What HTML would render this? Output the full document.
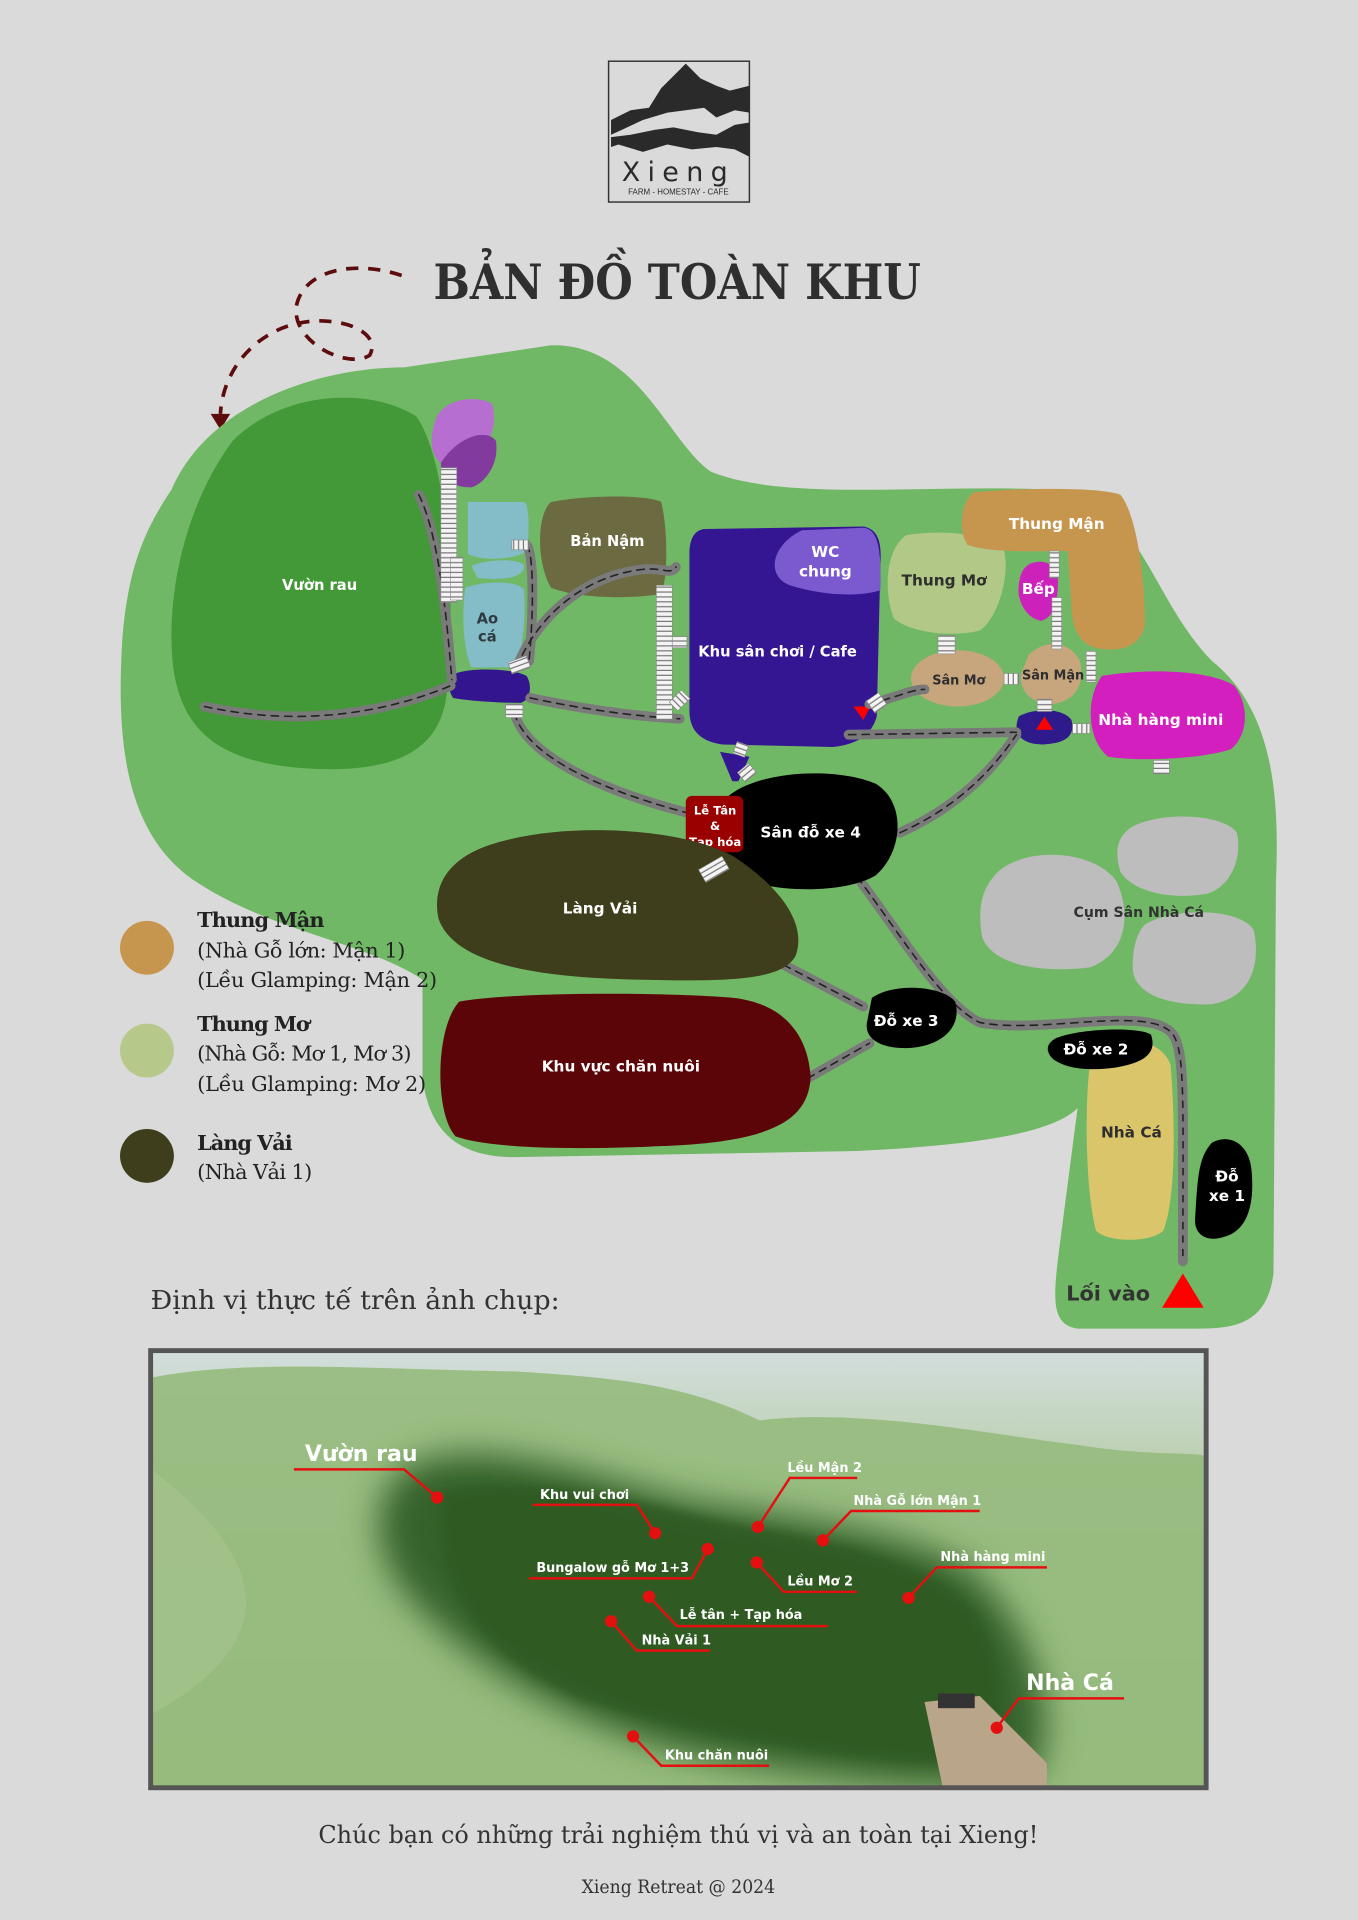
<!DOCTYPE html>
<html><head><meta charset="utf-8"><style>
html,body{margin:0;padding:0;background:#dadada}
svg{display:block}
.m{font-family:"DejaVu Sans","Liberation Sans",sans-serif;font-weight:bold}
.s{font-family:"DejaVu Serif","Liberation Serif",serif}
</style></head><body>
<svg width="1358" height="1920" viewBox="0 0 1109 1568" xmlns="http://www.w3.org/2000/svg">
<defs>
<pattern id="st" patternUnits="userSpaceOnUse" width="4" height="4"><rect width="4" height="4" fill="#f4f4f4"/><rect y="3" width="4" height="1" fill="#777"/></pattern>
<pattern id="sv" patternUnits="userSpaceOnUse" width="4" height="4"><rect width="4" height="4" fill="#f4f4f4"/><rect x="3" width="1" height="4" fill="#777"/></pattern>
<filter id="bl" x="-20%" y="-20%" width="140%" height="140%"><feGaussianBlur stdDeviation="14"/></filter>
<filter id="bl2"><feGaussianBlur stdDeviation="4"/></filter>
<linearGradient id="sky" x1="0" y1="0" x2="0" y2="1"><stop offset="0" stop-color="#d3dedc"/><stop offset="0.25" stop-color="#bcd0b2"/><stop offset="1" stop-color="#9dbd83"/></linearGradient>
<clipPath id="pc"><rect x="124" y="1104" width="860" height="355"/></clipPath>
</defs>
<rect width="1109" height="1568" fill="#dadada"/>

<!-- logo -->
<rect x="497" y="50" width="115" height="115" fill="none" stroke="#333" stroke-width="1.2"/>
<path d="M499,98 L515,90 L530,88 L540,72 L552,60 L560,52 L572,64 L585,70 L596,74 L612,70 L612,92 L600,90 L585,96 L575,88 L560,90 L545,92 L525,98 L510,105 L499,110 Z" fill="#2a2a2a"/>
<path d="M499,112 L515,110 L535,106 L550,104 L570,108 L585,110 L600,102 L612,100 L612,128 L600,122 L585,120 L565,122 L545,118 L525,124 L505,118 L499,120 Z" fill="#2a2a2a"/>
<text x="554" y="148" text-anchor="middle" font-family="DejaVu Sans" font-size="22" letter-spacing="6" fill="#2a2a2a">Xieng</text>
<text x="554" y="159" text-anchor="middle" font-family="Liberation Sans" font-size="6.5" fill="#2a2a2a">FARM - HOMESTAY - CAFE</text>

<!-- title -->
<text x="553" y="244" text-anchor="middle" font-family="DejaVu Serif" font-weight="bold" font-size="40" textLength="398" lengthAdjust="spacingAndGlyphs" fill="#2f2f2f">BẢN ĐỒ TOÀN KHU</text>

<!-- dashed arrow -->
<path d="M328,225 C290,212 248,220 242,250 C238,280 285,302 302,290 C310,275 290,262 260,262 C215,263 182,298 180,338" fill="none" stroke="#5c0c0c" stroke-width="3" stroke-dasharray="10,8"/>
<path d="M172,338 L188,338 L180,351 Z" fill="#5c0c0c"/>

<!-- base green -->
<path d="M140,400 C170,330 260,300 330,300 L450,282 C520,280 545,360 580,385 C640,410 760,395 860,400 C930,405 940,490 990,540 C1040,580 1045,650 1042,720 L1040,1040 C1035,1080 1010,1085 980,1085 L880,1085 C858,1082 860,1060 865,1020 L880,905 C860,925 800,935 700,940 L420,945 C370,945 350,920 345,880 L345,800 C300,770 220,760 160,720 C100,680 95,600 100,520 C105,460 120,430 140,400 Z" fill="#71b866"/>

<!-- Vườn rau -->
<path d="M190,360 C230,320 300,315 340,340 C368,380 372,500 365,565 C360,615 320,630 260,628 C170,625 140,590 140,520 C140,460 160,400 190,360 Z" fill="#439937"/>
<text x="261" y="482" text-anchor="middle" class="m" font-size="12" fill="#fff">Vườn rau</text>

<!-- purple -->
<path d="M355,345 C360,325 390,322 402,330 C406,345 402,360 390,370 L360,378 C350,370 352,355 355,345 Z" fill="#b66fd0"/>
<path d="M360,378 C375,355 398,350 405,360 C408,380 395,395 385,398 C370,398 360,392 360,378 Z" fill="#833a9e"/>

<!-- Ao cá -->
<path d="M382,410 L428,410 C433,412 432,440 430,450 C420,458 390,458 382,452 Z" fill="#84bcc8"/>
<path d="M385,462 C400,456 425,456 428,462 C428,472 412,474 390,472 Z" fill="#84bcc8"/>
<path d="M380,480 C395,474 425,474 428,482 C430,510 425,540 420,545 L385,545 C378,530 377,500 380,480 Z" fill="#84bcc8"/>
<text x="398" y="509" text-anchor="middle" class="m" font-size="12" fill="#2f3b40">Ao</text>
<text x="398" y="524" text-anchor="middle" class="m" font-size="12" fill="#2f3b40">cá</text>
<path d="M372,550 C385,545 420,546 430,552 C435,560 433,572 425,574 C405,574 380,572 370,570 C365,562 366,554 372,550 Z" fill="#33168f"/>

<!-- Bản Nậm -->
<path d="M450,410 C480,404 530,404 540,410 C545,430 546,470 540,485 C510,490 470,488 450,480 C438,460 438,420 450,410 Z" fill="#6c6a40"/>
<text x="496" y="446" text-anchor="middle" class="m" font-size="12" fill="#fff">Bản Nậm</text>

<!-- Khu sân chơi -->
<path d="M575,432 L705,430 C718,432 720,445 719,460 L716,585 C712,600 700,608 680,610 L590,608 C570,605 563,595 563,580 L563,450 C564,438 568,433 575,432 Z" fill="#341693"/>
<path d="M655,433 L705,431 C716,432 720,445 719,482 C700,488 670,486 645,478 C625,470 630,445 655,433 Z" fill="#7b5ad0"/>
<text x="674" y="455" text-anchor="middle" class="m" font-size="12.5" fill="#fff">WC</text>
<text x="674" y="471" text-anchor="middle" class="m" font-size="12.5" fill="#fff">chung</text>
<text x="635" y="536" text-anchor="middle" class="m" font-size="12" fill="#fff">Khu sân chơi / Cafe</text>
<path d="M697,577 L711,577 L705,588 Z" fill="#f00"/>
<path d="M588,614 L612,618 L603,638 L598,638 Z" fill="#341693"/>

<!-- Thung Mơ -->
<path d="M740,437 C770,432 810,436 820,450 C825,470 815,505 800,515 C780,520 745,518 730,505 C722,485 722,450 740,437 Z" fill="#b2c887"/>
<text x="771" y="478" text-anchor="middle" class="m" font-size="12.5" fill="#2e2e2e">Thung Mơ</text>

<!-- Thung Mận -->
<path d="M795,402 C840,398 900,398 915,404 C928,420 935,470 935,510 C932,528 915,532 900,530 C880,528 875,510 875,495 L872,450 C850,450 810,452 790,445 C782,432 785,410 795,402 Z" fill="#c6964f"/>
<text x="863" y="432" text-anchor="middle" class="m" font-size="12.5" fill="#fff">Thung Mận</text>

<!-- Bếp -->
<path d="M842,460 C855,456 864,462 864,475 C864,492 860,505 850,507 C838,505 830,490 832,478 C833,468 836,463 842,460 Z" fill="#cc22bb"/>
<text x="848" y="485" text-anchor="middle" class="m" font-size="12.5" fill="#fff">Bếp</text>

<!-- Sân Mơ / Sân Mận -->
<ellipse cx="782" cy="554" rx="38" ry="23" fill="#c8a67d"/>
<text x="783" y="559" text-anchor="middle" class="m" font-size="10.5" fill="#2e2e2e">Sân Mơ</text>
<path d="M840,535 C855,520 875,525 882,540 C886,560 878,572 860,575 C840,575 832,562 834,550 Z" fill="#c8a67d"/>
<text x="860" y="555" text-anchor="middle" class="m" font-size="10.5" fill="#2e2e2e">Sân Mận</text>
<path d="M832,585 C845,578 868,578 875,588 C878,600 872,607 852,608 C835,608 826,600 832,585 Z" fill="#2f1a8c"/>
<path d="M853,585 L860,596 L846,596 Z" fill="#f00"/>

<!-- Nhà hàng mini -->
<path d="M900,552 C940,545 990,548 1008,560 C1020,575 1020,600 1005,612 C980,620 930,622 905,618 C888,605 886,570 900,552 Z" fill="#d21fbd"/>
<text x="948" y="592" text-anchor="middle" class="m" font-size="12.5" fill="#fff">Nhà hàng mini</text>

<!-- roads -->
<g fill="none" stroke-linecap="round">
<g stroke="#7a7a7a" stroke-width="8">
<path d="M167,577 C250,595 320,580 368,560"/>
<path d="M342,404 C360,440 366,520 369,555"/>
<path d="M433,570 C480,580 520,585 555,587"/>
<path d="M422,545 C440,500 480,470 525,465 C540,463 548,470 552,463"/>
<path d="M430,445 C436,450 436,500 432,540"/>
<path d="M420,582 C430,620 500,648 562,664"/>
<path d="M693,600 L830,598"/>
<path d="M735,680 C780,660 810,630 830,600"/>
<path d="M700,716 C740,770 770,820 800,835 C850,845 940,820 958,845 C968,860 966,900 966,1030"/>
<path d="M640,788 L705,822"/>
<path d="M650,886 L710,852"/>
<path d="M710,575 C730,570 745,563 755,563"/>
</g>
<g stroke="#222" stroke-width="1.3" stroke-dasharray="6,5">
<path d="M167,577 C250,595 320,580 368,560"/>
<path d="M342,404 C360,440 366,520 369,555"/>
<path d="M433,570 C480,580 520,585 555,587"/>
<path d="M422,545 C440,500 480,470 525,465 C540,463 548,470 552,463"/>
<path d="M430,445 C436,450 436,500 432,540"/>
<path d="M420,582 C430,620 500,648 562,664"/>
<path d="M693,600 L830,598"/>
<path d="M735,680 C780,660 810,630 830,600"/>
<path d="M700,716 C740,770 770,820 800,835 C850,845 940,820 958,845 C968,860 966,900 966,1030"/>
<path d="M640,788 L705,822"/>
<path d="M650,886 L710,852"/>
<path d="M710,575 C730,570 745,563 755,563"/>
</g>
</g>

<!-- stairs -->
<g stroke="#888" stroke-width="0.5">
<rect x="360" y="382" width="13" height="110" fill="url(#st)"/>
<rect x="368" y="455" width="10" height="35" fill="url(#st)"/>
<rect x="418" y="441" width="14" height="8" fill="url(#sv)"/>
<rect x="536" y="478" width="13" height="110" fill="url(#st)"/>
<rect x="549" y="520" width="12" height="9" fill="url(#st)"/>
<rect x="550" y="565" width="10" height="14" fill="url(#st)" transform="rotate(45 555 572)"/>
<rect x="416" y="538" width="16" height="10" fill="url(#st)" transform="rotate(-20 424 543)"/>
<rect x="413" y="575" width="14" height="11" fill="url(#st)"/>
<rect x="600" y="607" width="10" height="10" fill="url(#st)" transform="rotate(20 605 612)"/>
<rect x="604" y="626" width="12" height="10" fill="url(#st)" transform="rotate(-40 610 631)"/>
<rect x="710" y="568" width="12" height="12" fill="url(#st)" transform="rotate(-35 716 574)"/>
<rect x="766" y="519" width="14" height="15" fill="url(#st)"/>
<rect x="820" y="550" width="12" height="9" fill="url(#sv)"/>
<rect x="857" y="450" width="8" height="22" fill="url(#st)"/>
<rect x="859" y="488" width="8" height="42" fill="url(#st)"/>
<rect x="887" y="532" width="8" height="25" fill="url(#st)"/>
<rect x="847" y="571" width="12" height="10" fill="url(#st)"/>
<rect x="876" y="591" width="14" height="8" fill="url(#sv)"/>
<rect x="942" y="621" width="13" height="11" fill="url(#st)"/>
</g>

<!-- Sân đỗ xe 4 -->
<path d="M590,655 C610,630 680,625 715,640 C740,655 738,695 715,715 C690,730 630,730 600,715 C580,700 578,670 590,655 Z" fill="#000"/>
<text x="662" y="684" text-anchor="middle" class="m" font-size="12.5" fill="#fff">Sân đỗ xe 4</text>
<rect x="560" y="650" width="47" height="46" rx="5" fill="#9b0000"/>
<text x="584" y="665" text-anchor="middle" class="m" font-size="9.5" fill="#fff">Lễ Tân</text>
<text x="584" y="678" text-anchor="middle" class="m" font-size="9.5" fill="#fff">&amp;</text>
<text x="584" y="691" text-anchor="middle" class="m" font-size="9.5" fill="#fff">Tạp hóa</text>

<!-- Làng Vải -->
<path d="M400,690 C460,670 560,676 600,700 C630,720 660,750 650,780 C640,800 600,802 520,800 C430,798 370,785 358,750 C352,720 370,700 400,690 Z" fill="#3e3e1c"/>
<text x="490" y="746" text-anchor="middle" class="m" font-size="12.5" fill="#fff">Làng Vải</text>
<rect x="572" y="704" width="22" height="12" fill="url(#st)" transform="rotate(-30 583 710)" stroke="#888" stroke-width="0.5"/>

<!-- Khu vực chăn nuôi -->
<path d="M375,818 C420,810 540,810 600,815 C640,820 660,845 662,880 C660,915 630,930 560,935 C470,940 400,938 372,928 C355,910 355,840 375,818 Z" fill="#5c0508"/>
<text x="507" y="875" text-anchor="middle" class="m" font-size="12.5" fill="#fff">Khu vực chăn nuôi</text>

<!-- Đỗ xe 3 -->
<path d="M712,815 C730,802 770,805 780,818 C786,838 770,855 740,856 C718,856 706,848 708,835 Z" fill="#000"/>
<text x="740" y="838" text-anchor="middle" class="m" font-size="12.5" fill="#fff">Đỗ xe 3</text>

<!-- Cụm Sân Nhà Cá -->
<path d="M925,675 C950,662 1000,665 1010,680 C1015,700 1005,725 985,730 C955,735 925,728 915,712 C910,695 912,683 925,675 Z" fill="#bdbdbd"/>
<path d="M815,712 C840,690 895,695 912,720 C925,750 918,780 890,790 C850,795 810,788 802,765 C798,740 802,725 815,712 Z" fill="#bdbdbd"/>
<path d="M935,755 C960,740 1015,742 1024,760 C1030,790 1020,815 990,820 C950,822 925,810 925,790 C925,775 928,762 935,755 Z" fill="#bdbdbd"/>
<text x="930" y="749" text-anchor="middle" class="m" font-size="11.5" fill="#333">Cụm Sân Nhà Cá</text>

<!-- Nhà Cá -->
<path d="M900,852 C920,845 950,850 956,870 C960,920 960,980 950,1005 C940,1015 905,1015 895,1005 C886,970 886,900 890,870 Z" fill="#dbc56b"/>
<text x="924" y="929" text-anchor="middle" class="m" font-size="12.5" fill="#2e2e2e">Nhà Cá</text>
<path d="M958,845 C968,860 966,900 966,1030" fill="none" stroke="#7a7a7a" stroke-width="8" stroke-linecap="round"/>
<path d="M958,845 C968,860 966,900 966,1030" fill="none" stroke="#222" stroke-width="1.3" stroke-dasharray="6,5"/>

<!-- Đỗ xe 2 -->
<path d="M862,848 C880,840 930,838 940,845 C945,860 935,868 910,872 C885,875 870,872 860,865 C853,858 855,852 862,848 Z" fill="#000"/>
<text x="895" y="861" text-anchor="middle" class="m" font-size="12.5" fill="#fff">Đỗ xe 2</text>

<!-- Đỗ xe 1 -->
<path d="M990,933 C1005,925 1020,935 1022,955 C1025,985 1018,1005 1000,1010 C985,1015 975,1008 976,995 C978,965 978,945 990,933 Z" fill="#000"/>
<text x="1002" y="965" text-anchor="middle" class="m" font-size="12.5" fill="#fff">Đỗ</text>
<text x="1002" y="981" text-anchor="middle" class="m" font-size="12.5" fill="#fff">xe 1</text>

<!-- Lối vào -->
<text x="905" y="1062" text-anchor="middle" class="m" font-size="17" fill="#333">Lối vào</text>
<path d="M966,1040 L983,1068 L949,1068 Z" fill="#f00"/>

<!-- legend -->
<circle cx="120" cy="774" r="22" fill="#c6964f"/>
<circle cx="120" cy="858" r="22" fill="#b7c98a"/>
<circle cx="120" cy="944" r="22" fill="#3e3e1c"/>
<g class="s" fill="#222" font-size="17" lengthAdjust="spacingAndGlyphs">
<text x="161" y="757" font-weight="bold" textLength="104">Thung Mận</text>
<text x="161" y="782" textLength="170">(Nhà Gỗ lớn: Mận 1)</text>
<text x="161" y="806" textLength="196">(Lều Glamping: Mận 2)</text>
<text x="161" y="842" font-weight="bold" textLength="92">Thung Mơ</text>
<text x="161" y="866" textLength="175">(Nhà Gỗ: Mơ 1, Mơ 3)</text>
<text x="161" y="891" textLength="187">(Lều Glamping: Mơ 2)</text>
<text x="161" y="939" font-weight="bold" textLength="78">Làng Vải</text>
<text x="161" y="963" textLength="94">(Nhà Vải 1)</text>
</g>

<text x="123" y="1069" class="s" font-size="21" fill="#333" textLength="334" lengthAdjust="spacingAndGlyphs">Định vị thực tế trên ảnh chụp:</text>

<!-- photo -->
<g clip-path="url(#pc)">
<rect x="124" y="1104" width="860" height="355" fill="url(#sky)"/>
<path d="M124,1125 C200,1110 300,1118 420,1120 C500,1125 560,1130 620,1160 C700,1150 800,1170 880,1180 C940,1190 984,1185 984,1190 L984,1460 L124,1460 Z" fill="#95ba7c" opacity="0.9"/>
<path d="M124,1200 C200,1260 250,1330 124,1400 Z" fill="#a6c590" opacity="0.6"/>
<path d="M330,1200 C380,1170 470,1200 560,1225 C650,1240 740,1250 790,1280 C850,1330 870,1420 840,1455 C780,1465 700,1455 600,1440 C480,1420 380,1360 330,1300 C300,1260 305,1220 330,1200 Z" fill="#34622a" filter="url(#bl)"/>
<path d="M360,1220 C420,1200 520,1225 600,1245 C700,1260 770,1280 800,1320 C830,1380 820,1430 780,1440 C700,1440 580,1420 480,1390 C400,1360 350,1300 360,1220 Z" fill="#2e5a20" filter="url(#bl2)" opacity="0.8"/>
<path d="M755,1390 L800,1385 L855,1440 L855,1460 L770,1460 Z" fill="#b8a58a"/>
<rect x="766" y="1383" width="30" height="12" fill="#333"/>
</g>
<rect x="123" y="1103" width="862" height="357" fill="none" stroke="#555" stroke-width="4"/>
<g stroke="#e41010" stroke-width="2" fill="none">
<path d="M240,1200 L330,1200 L357,1223"/>
<path d="M435,1229 L520,1229 L535,1252"/>
<path d="M700,1207 L645,1207 L619,1247"/>
<path d="M800,1234 L695,1234 L672,1258"/>
<path d="M432,1289 L565,1289 L578,1265"/>
<path d="M618,1276 L640,1300 L700,1300"/>
<path d="M855,1280 L765,1280 L742,1305"/>
<path d="M530,1304 L553,1328 L676,1328"/>
<path d="M499,1324 L520,1348 L580,1348"/>
<path d="M918,1387 L832,1387 L814,1411"/>
<path d="M517,1418 L540,1442 L628,1442"/>
</g>
<g fill="#e41010">
<circle cx="357" cy="1223" r="5"/><circle cx="535" cy="1252" r="5"/><circle cx="619" cy="1247" r="5"/><circle cx="672" cy="1258" r="5"/><circle cx="578" cy="1265" r="5"/><circle cx="618" cy="1276" r="5"/><circle cx="742" cy="1305" r="5"/><circle cx="530" cy="1304" r="5"/><circle cx="499" cy="1324" r="5"/><circle cx="814" cy="1411" r="5"/><circle cx="517" cy="1418" r="5"/>
</g>
<g class="m" fill="#fff" font-size="10.5">
<text x="249" y="1193" font-size="18">Vườn rau</text>
<text x="441" y="1224">Khu vui chơi</text>
<text x="643" y="1202">Lều Mận 2</text>
<text x="697" y="1229">Nhà Gỗ lớn Mận 1</text>
<text x="438" y="1284">Bungalow gỗ Mơ 1+3</text>
<text x="643" y="1295">Lều Mơ 2</text>
<text x="768" y="1275">Nhà hàng mini</text>
<text x="555" y="1322">Lễ tân + Tạp hóa</text>
<text x="524" y="1343">Nhà Vải 1</text>
<text x="838" y="1380" font-size="18">Nhà Cá</text>
<text x="543" y="1437">Khu chăn nuôi</text>
</g>

<text x="554" y="1505" text-anchor="middle" class="s" font-size="20" fill="#333" textLength="588" lengthAdjust="spacingAndGlyphs">Chúc bạn có những trải nghiệm thú vị và an toàn tại Xieng!</text>
<text x="554" y="1546" text-anchor="middle" class="s" font-size="15" fill="#333" textLength="158" lengthAdjust="spacingAndGlyphs">Xieng Retreat @ 2024</text>
</svg>
</body></html>
